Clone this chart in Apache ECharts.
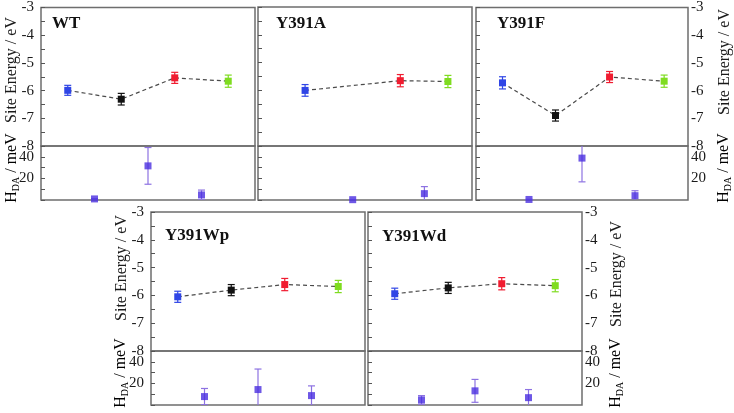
<!DOCTYPE html>
<html><head><meta charset="utf-8">
<script src="https://cdn.jsdelivr.net/npm/echarts@6/dist/echarts.min.js"></script>
<style>html,body{margin:0;padding:0;background:#fff}#c{width:734px;height:413px}</style>
</head><body><div id="c"></div>
<script>
// ---- data ----
const panels = ['WT', 'Y391A', 'Y391F', 'Y391Wp', 'Y391Wd'];
// x position of the four sites in each panel (0..4 axis); null = site absent
const siteX = [[0.5, 1.5, 2.5, 3.5], [0.88, null, 2.66, 3.55], [0.5, 1.5, 2.52, 3.55], [0.5, 1.5, 2.5, 3.5], [0.5, 1.5, 2.5, 3.5]];
const siteEnergy = [[-5.99, -6.31, -5.54, -5.66], [-6.0, null, -5.65, -5.68], [-5.72, -6.90, -5.51, -5.66], [-6.05, -5.81, -5.61, -5.68], [-5.94, -5.73, -5.58, -5.65]];
const siteErr = [[0.18, 0.21, 0.2, 0.22], [0.21, null, 0.22, 0.22], [0.22, 0.2, 0.2, 0.22], [0.2, 0.2, 0.22, 0.22], [0.2, 0.2, 0.22, 0.22]];
const hdaX = [[1, 2, 3], [1.77, 3.11], [1, 2, 3], [1, 2, 3], [1, 2, 3]];
const hda = [[1, 31.6, 4.7], [0.3, 5.9], [0.5, 38.8, 4], [7.8, 14.3, 8.7], [4.7, 13.1, 6.8]];
const hdaErr = [[0, 17, 4.5], [0, 6.5], [0, 22, 4.6], [7.5, 19, 9], [4, 10.6, 7.5]];
const energyTickLabels = [-3, -4, -5, -6, -7, -8];
const hdaTickLabels = [20, 40];
const energyTitle = 'Site Energy / eV';

// ---- styles / layout ----
const FONT = '"Liberation Serif", "Times New Roman", serif';
const siteColors = ['#2f45e6', '#111111', '#f01c30', '#7fdc20'];
const hdaColor = '#4a2ee0', hdaErrColor = '#8d72e2';
const L = [41, 258, 476, 151, 368], W = [214, 214, 212, 214, 214], T = [7, 7, 7, 212, 212];
const UH = 139, LH = 54;
const labelSide = ['left', 'none', 'right', 'left', 'right'];
const axisRight = [false, false, true, false, true];
const titlePos = [[52, 24], [276, 24], [497, 24], [165, 236], [382, 237]];

const grid = [], xAxis = [], yAxis = [], series = [];
function errRender(colorFn) {
  return function (params, api) {
    const x = api.value(0), y = api.value(1), e = api.value(2);
    const c = colorFn(api.value(3));
    const p1 = api.coord([x, y + e]), p2 = api.coord([x, y - e]);
    const cw = 3.5;
    const st = { stroke: c, lineWidth: 1.2 };
    return { type: 'group', children: [
      { type: 'line', shape: { x1: p1[0], y1: p1[1], x2: p2[0], y2: p2[1] }, style: st },
      { type: 'line', shape: { x1: p1[0] - cw, y1: p1[1], x2: p1[0] + cw, y2: p1[1] }, style: st },
      { type: 'line', shape: { x1: p2[0] - cw, y1: p2[1], x2: p2[0] + cw, y2: p2[1] }, style: st }
    ]};
  };
}
panels.forEach((name, i) => {
  const gu = 2 * i, gl = 2 * i + 1;
  const gstyle = { show: true, borderColor: '#6e6e6e', borderWidth: 1.5, backgroundColor: 'transparent' };
  grid.push(Object.assign({ left: L[i], top: T[i], width: W[i], height: UH }, gstyle));
  grid.push(Object.assign({ left: L[i], top: T[i] + UH, width: W[i], height: LH }, gstyle));
  [gu, gl].forEach(g => xAxis.push({ gridIndex: g, type: 'value', min: 0, max: 4, show: false }));
  const right = axisRight[i];
  const showLab = labelSide[i] !== 'none';
  const tick = { show: true, inside: !right, length: 4, lineStyle: { color: '#555', width: 1 } };
  const lab = { show: showLab, fontFamily: FONT, fontSize: 15, color: '#1a1a1a', margin: right ? 3 : 7 };
  yAxis.push({ gridIndex: gu, type: 'value', min: -8, max: -3, interval: 1, position: right ? 'right' : 'left',
    axisLine: { show: false }, splitLine: { show: false }, axisTick: tick,
    minorTick: { show: true, splitNumber: 2, length: 4, lineStyle: { color: '#555', width: 1 } },
    axisLabel: Object.assign({}, lab, { formatter: v => energyTickLabels.includes(v) ? String(v) : '' }) });
  yAxis.push({ gridIndex: gl, type: 'value', min: 0, max: 50, interval: 10, position: right ? 'right' : 'left',
    axisLine: { show: false }, splitLine: { show: false }, axisTick: tick,
    axisLabel: Object.assign({}, lab, { formatter: v => hdaTickLabels.includes(v) ? String(v) : '' }) });

  const sData = [], eData = [];
  siteX[i].forEach((x, k) => {
    if (x === null || siteEnergy[i][k] === null) return;
    sData.push({ value: [x, siteEnergy[i][k]], itemStyle: { color: siteColors[k] } });
    eData.push([x, siteEnergy[i][k], siteErr[i][k], k]);
  });
  series.push({ type: 'custom', xAxisIndex: gu, yAxisIndex: gu, data: eData, z: 2,
    renderItem: errRender(k => siteColors[k]) });
  series.push({ type: 'line', xAxisIndex: gu, yAxisIndex: gu, data: sData, z: 3,
    symbol: 'rect', symbolSize: 7, lineStyle: { color: '#4a4a4a', width: 1.2, type: [4, 3] } });
  const hErr = hdaX[i].map((x, k) => [x, hda[i][k], hdaErr[i][k], 0]);
  series.push({ type: 'custom', xAxisIndex: gl, yAxisIndex: gl, data: hErr, z: 2, clip: true,
    renderItem: errRender(() => hdaErrColor) });
  series.push({ type: 'scatter', xAxisIndex: gl, yAxisIndex: gl, z: 3, clip: false,
    data: hdaX[i].map((x, k) => [x, hda[i][k]]), symbol: 'rect', symbolSize: 7,
    itemStyle: { color: hdaColor } });
});

const graphic = [];
panels.forEach((name, i) => {
  graphic.push({ type: 'text', x: titlePos[i][0], y: titlePos[i][1],
    style: { text: name, font: 'bold 17px ' + FONT, fill: '#111', textAlign: 'left', textVerticalAlign: 'middle' } });
});
const hdaRich = { a: { fontSize: 16, fontFamily: FONT, color: '#1a1a1a' }, b: { fontSize: 10, fontFamily: FONT, color: '#1a1a1a', padding: [9, 0, 0, 0] } };
const axisTitles = [[12, 70, 12, 168], [725, 62, 724, 168], [122, 268, 121, 373], [617, 274, 616, 373]];
axisTitles.forEach(t => {
  graphic.push({ type: 'text', x: t[0], y: t[1], rotation: Math.PI / 2,
    style: { text: energyTitle, font: '16px ' + FONT, fill: '#1a1a1a', textAlign: 'center', textVerticalAlign: 'middle' } });
  graphic.push({ type: 'text', x: t[2], y: t[3], rotation: Math.PI / 2,
    style: { text: '{a|H}{b|DA}{a| / meV}', rich: hdaRich, textAlign: 'center', textVerticalAlign: 'middle' } });
});

const chart = echarts.init(document.getElementById('c'), null, { renderer: 'canvas' });
chart.setOption({ animation: false, backgroundColor: '#fff', grid, xAxis, yAxis, series, graphic });
</script></body></html>
